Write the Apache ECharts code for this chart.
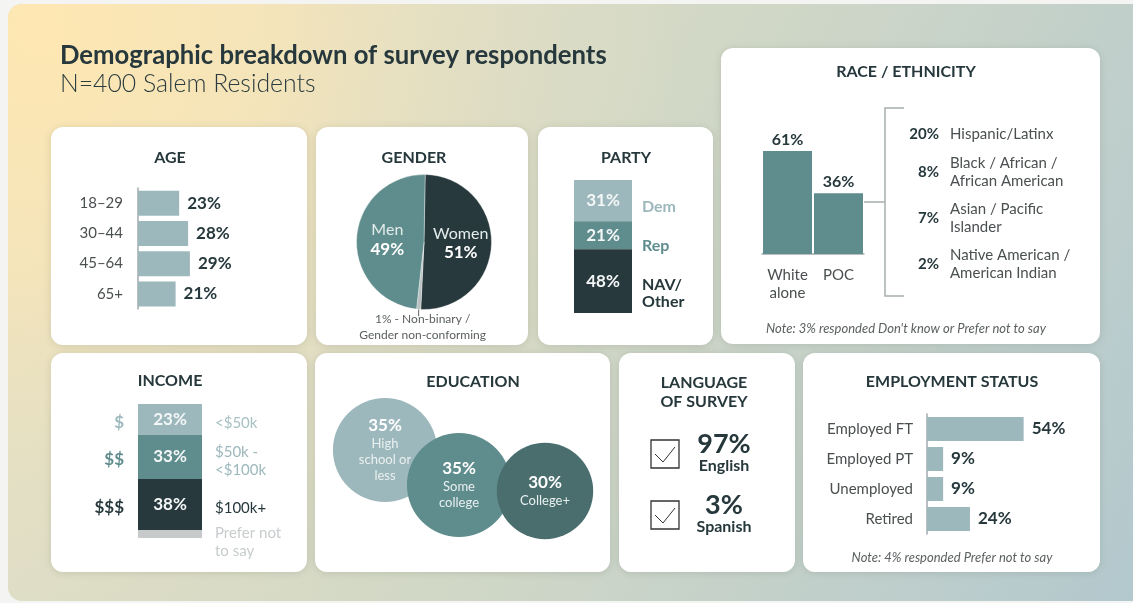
<!DOCTYPE html>
<html>
<head>
<meta charset="utf-8">
<title>Demographic breakdown of survey respondents</title>
<script src="https://cdn.jsdelivr.net/npm/echarts@6/dist/echarts.min.js"></script>
<style>
  html, body { margin: 0; padding: 0; background: #f4f4f2; }
  #chart { width: 1133px; height: 603px; }
</style>
</head>
<body>
<div id="chart"></div>
<script>
// ---- survey data ----
const ageCategories = ['18–29', '30–44', '45–64', '65+'];
const ageValues = [23, 28, 29, 21];

const genderNames = ['Women', 'Non-binary /\nGender non-conforming', 'Men'];
const genderValues = [51, 1, 49];

const partyNames = ['Dem', 'Rep', 'NAV/\nOther'];
const partyValues = [31, 21, 48];

const raceCategories = ['White\nalone', 'POC'];
const raceValues = [61, 36];
const pocNames = ['Hispanic/Latinx', 'Black / African /\nAfrican American', 'Asian / Pacific\nIslander', 'Native American /\nAmerican Indian'];
const pocValues = [20, 8, 7, 2];
const raceNote = "Note: 3% responded Don't know or Prefer not to say";

const incomeSymbols = ['$', '$$', '$$$', ''];
const incomeRanges = ['<$50k', '$50k -\n<$100k', '$100k+', 'Prefer not\nto say'];
const incomeValues = [23, 33, 38, 6];

const eduNames = ['High\nschool or\nless', 'Some\ncollege', 'College+'];
const eduValues = [35, 35, 30];

const langNames = ['English', 'Spanish'];
const langValues = [97, 3];

const empCategories = ['Employed FT', 'Employed PT', 'Unemployed', 'Retired'];
const empValues = [54, 9, 9, 24];
const empNote = 'Note: 4% responded Prefer not to say';

// ---- styling ----
const FONT = 'Lato, "Noto Sans", sans-serif';
const C = {
  ink: '#26383c',
  text: '#4a4f50',
  light: '#9db8bc',
  mid: '#5f8c8c',
  deep: '#27393c',
  grey: '#c6cacb',
  edu3: '#4a6e6e',
  axis: '#a3abac'
};
const pct = v => v + '%';
const clear = 'rgba(0,0,0,0)';

// ---- backdrop, card frames and static text ----
const cards = [
  [51, 127, 256, 218], [316, 127, 212, 218], [538, 127, 175, 218], [721, 48, 379, 296],
  [51, 353, 256, 219], [315, 353, 295, 219], [619, 353, 176, 219], [803, 353, 297, 219]
];
const backdrop = { x: 8, y: 4, width: 1145, height: 597, r: 14 };
const graphics = [{
  type: 'rect', z: -30, shape: backdrop,
  style: {
    fill: new echarts.graphic.LinearGradient(0, 0, 1, 1, [
      { offset: 0, color: '#e4e0c6' },
      { offset: 0.5, color: '#d2d8c6' },
      { offset: 1, color: '#b2c8ce' }
    ])
  }
}, {
  type: 'rect', z: -25, shape: backdrop,
  style: {
    fill: new echarts.graphic.RadialGradient(40, 30, 640, [
      { offset: 0, color: 'rgba(254,231,178,1)' },
      { offset: 0.35, color: 'rgba(250,230,182,0.8)' },
      { offset: 0.7, color: 'rgba(242,228,190,0.3)' },
      { offset: 1, color: 'rgba(240,228,195,0)' }
    ], true)
  }
}];
cards.forEach(c => graphics.push({
  type: 'rect', z: -10,
  shape: { x: c[0], y: c[1], width: c[2], height: c[3], r: 12 },
  style: { fill: '#ffffff', shadowBlur: 8, shadowColor: 'rgba(60,70,55,0.16)', shadowOffsetY: 1 }
}));

function text(x, y, str, o) {
  graphics.push({
    type: 'text', z: 10, x: x, y: y,
    style: Object.assign({
      text: str, fontFamily: FONT, fontSize: 16, fontWeight: 'bold', fill: C.ink,
      align: 'center', verticalAlign: 'middle'
    }, o || {})
  });
}

text(60, 56, 'Demographic breakdown of survey respondents', { align: 'left', fontSize: 25.7 });
text(60, 84, 'N=400 Salem Residents', { align: 'left', fontSize: 24.8, fontWeight: 300, fill: '#2b3b3f' });

text(170, 158, 'AGE');
text(414, 158, 'GENDER');
text(626, 158, 'PARTY');
text(906, 72, 'RACE / ETHNICITY');
text(170, 381, 'INCOME');
text(473, 382, 'EDUCATION');
text(704, 392, 'LANGUAGE\nOF SURVEY', { lineHeight: 19 });
text(952, 382, 'EMPLOYMENT STATUS');

// race: bracket linking POC to its breakdown
graphics.push({ type: 'polyline', z: 5, shape: { points: [[864, 202], [885, 202]] }, style: { stroke: '#a6adae', lineWidth: 1.5 } });
graphics.push({ type: 'polyline', z: 5, shape: { points: [[904, 108], [885, 108], [885, 296], [904, 296]] }, style: { stroke: '#a6adae', lineWidth: 1.5, fill: null } });
const pocRowY = [134, 172, 218, 264];
pocValues.forEach((v, i) => {
  text(939, pocRowY[i], pct(v), { align: 'right', fontSize: 15 });
  text(950, pocRowY[i], pocNames[i], { align: 'left', fontSize: 15, fontWeight: 'normal', fill: C.text, lineHeight: 18 });
});
text(906, 329, raceNote, { fontSize: 13, fontWeight: 'normal', fontStyle: 'italic', fill: '#5a5f60' });

// language: ticked boxes with shares
const langRowY = [440, 501];
langValues.forEach((v, i) => {
  const y = langRowY[i];
  graphics.push({ type: 'rect', z: 5, shape: { x: 651, y: y, width: 28, height: 28 }, style: { fill: '#fff', stroke: '#333', lineWidth: 1.3 } });
  graphics.push({ type: 'polyline', z: 6, shape: { points: [[655, y + 14], [663, y + 22], [675, y + 7]] }, style: { stroke: '#333', lineWidth: 1, fill: null } });
  text(724, y + 4, pct(v), { fontSize: 27 });
  text(724, y + 26, langNames[i], { fontSize: 16 });
});

text(952, 558, empNote, { fontSize: 13, fontWeight: 'normal', fontStyle: 'italic', fill: '#5a5f60' });

// ---- series ----
const valueLabel = { show: true, position: 'right', distance: 8, formatter: p => pct(p.value), fontFamily: FONT, fontSize: 17, fontWeight: 'bold', color: C.ink };
const series = [];

// age
series.push({
  type: 'bar', xAxisIndex: 0, yAxisIndex: 0, data: ageValues, barWidth: 25,
  itemStyle: { color: C.light }, label: valueLabel, silent: true
});

// party: stacked column, percentages inside, names beside
const partyColors = [C.light, C.mid, C.deep];
const partyNameColors = [C.light, C.mid, C.ink];
const partyNameNudge = [6, 11, 12];
partyValues.forEach((v, i) => {
  series.push({
    type: 'bar', xAxisIndex: 1, yAxisIndex: 1, stack: 'party', barWidth: 58, barGap: '-100%',
    data: [v], itemStyle: { color: partyColors[i] }, silent: true,
    label: { show: true, position: 'inside', formatter: p => pct(p.value), fontFamily: FONT, fontSize: 17, fontWeight: 'bold', color: '#f4f7f7' }
  });
  series.push({
    type: 'bar', xAxisIndex: 1, yAxisIndex: 1, stack: 'partyNames', barWidth: 58, barGap: '-100%',
    data: [v], itemStyle: { color: clear }, silent: true,
    label: { show: true, position: 'right', distance: 10, offset: [0, partyNameNudge[i]], formatter: partyNames[i], fontFamily: FONT, fontSize: 16, fontWeight: 'bold', lineHeight: 17, color: partyNameColors[i] }
  });
});

// race
series.push({
  type: 'bar', xAxisIndex: 2, yAxisIndex: 2, data: raceValues, barWidth: 49,
  itemStyle: { color: C.mid }, silent: true,
  label: { show: true, position: 'top', distance: 3, formatter: p => pct(p.value), fontFamily: FONT, fontSize: 16, fontWeight: 'bold', color: C.ink }
});

// income: stacked column with symbols left and ranges right
const incomeColors = [C.light, C.mid, C.deep, C.grey];
const incomeSymbolColors = [C.light, C.mid, C.ink, C.grey];
const incomeRangeColors = ['#a7c0c3', '#9db8bc', C.ink, '#c7cccd'];
incomeValues.forEach((v, i) => {
  const common = { type: 'bar', xAxisIndex: 3, yAxisIndex: 3, barWidth: 64, barGap: '-100%', data: [v], silent: true };
  series.push(Object.assign({}, common, {
    stack: 'income', itemStyle: { color: incomeColors[i] },
    label: { show: incomeSymbols[i] !== '', position: 'inside', formatter: p => pct(p.value), fontFamily: FONT, fontSize: 17, fontWeight: 'bold', color: '#f4f7f7' }
  }));
  series.push(Object.assign({}, common, {
    stack: 'incomeSym', itemStyle: { color: clear },
    label: { show: incomeSymbols[i] !== '', position: 'left', distance: 14, offset: [0, 3], formatter: incomeSymbols[i], fontFamily: FONT, fontSize: 17, fontWeight: 'bold', color: incomeSymbolColors[i] }
  }));
  series.push(Object.assign({}, common, {
    stack: 'incomeRange', itemStyle: { color: clear },
    label: { show: true, position: 'right', distance: 13, offset: [0, i === 3 ? 8 : 4], formatter: incomeRanges[i], fontFamily: FONT, fontSize: 15, lineHeight: 18, color: incomeRangeColors[i] }
  }));
});

// education: overlapping bubbles, area proportional to share; each on its own layer
const eduColors = [C.light, C.mid, C.edu3];
const eduNudge = [[0, -20], [-6, 15], [0, 21]];
const eduTextColors = ['#eaf0f0', '#e9f0f0', '#e9f0f0'];
eduValues.forEach((v, i) => {
  series.push({
    type: 'scatter', xAxisIndex: 4, yAxisIndex: 4, zlevel: i, z: 2, silent: true,
    data: [[i, 0, v]],
    symbolSize: p => 2 * 8.8 * Math.sqrt(p[2]),
    symbolOffset: eduNudge[i],
    itemStyle: { color: eduColors[i], opacity: 1 },
    label: {
      show: true, position: 'inside',
      formatter: () => '{p|' + pct(v) + '}\n' + eduNames[i].split('\n').map(s => '{n|' + s + '}').join('\n'),
      rich: {
        p: { fontFamily: FONT, fontSize: 17, fontWeight: 'bold', color: '#ffffff', lineHeight: 20 },
        n: { fontFamily: FONT, fontSize: 13, color: eduTextColors[i], lineHeight: 16 }
      }
    }
  });
});

// employment
series.push({
  type: 'bar', xAxisIndex: 5, yAxisIndex: 5, data: empValues, barWidth: 24,
  itemStyle: { color: C.light }, label: valueLabel, silent: true
});

// gender pie
const genderColors = [C.deep, '#b8bfc0', C.mid];
series.push({
  type: 'pie', center: [424, 242], radius: 67.5, startAngle: 89, silent: true,
  itemStyle: { borderColor: 'rgba(255,255,255,0.6)', borderWidth: 0.6 },
  labelLine: { show: false },
  data: genderValues.map((v, i) => {
    const item = { value: v, name: genderNames[i], itemStyle: { color: genderColors[i] } };
    if (i === 1) {
      item.label = {
        position: 'outside', formatter: p => pct(p.value) + ' - ' + p.name,
        fontFamily: FONT, fontSize: 12, lineHeight: 16, color: '#5a5f60', align: 'center'
      };
      item.labelLine = { show: true, length: 5, length2: 0, lineStyle: { color: '#666', width: 1 } };
    } else {
      item.label = {
        position: 'inside',
        formatter: p => '{n|' + p.name + '}\n{p|' + pct(p.value) + '}',
        rich: {
          n: { fontFamily: FONT, fontSize: 16, color: '#e4ecec', lineHeight: 19 },
          p: { fontFamily: FONT, fontSize: 17, fontWeight: 'bold', color: '#ffffff', lineHeight: 19 }
        }
      };
    }
    return item;
  }),
  labelLayout: function (p) {
    if (p.dataIndex !== 1 || !p.labelLinePoints) return {};
    const a = p.labelLinePoints[0];
    return {
      x: a[0] + 4, y: a[1] + 2, align: 'center', verticalAlign: 'top',
      labelLinePoints: [a, [a[0], a[1] + 7], [a[0], a[1] + 7]]
    };
  }
});

const hidden = { show: false };
const option = {
  animation: false,
  backgroundColor: '#f4f4f2',
  graphic: { elements: graphics },
  grid: [
    { left: 138, top: 188, width: 179, height: 121 },   // age
    { left: 574, top: 180, width: 58, height: 133 },    // party
    { left: 762, top: 85, width: 102, height: 169 },    // race
    { left: 138, top: 404, width: 64, height: 134 },    // income
    { left: 345, top: 440, width: 240, height: 60 },    // education
    { left: 927, top: 414, width: 179, height: 120 }    // employment
  ],
  xAxis: [
    { gridIndex: 0, type: 'value', min: 0, max: 100, show: false },
    { gridIndex: 1, type: 'category', data: ['Party'], show: false },
    {
      gridIndex: 2, type: 'category', data: raceCategories,
      axisLine: { lineStyle: { color: C.axis, width: 1.5 } }, axisTick: hidden,
      axisLabel: { interval: 0, fontFamily: FONT, fontSize: 15, color: C.text, margin: 12, lineHeight: 18 }
    },
    { gridIndex: 3, type: 'category', data: ['Income'], show: false },
    { gridIndex: 4, type: 'category', data: eduNames, show: false },
    { gridIndex: 5, type: 'value', min: 0, max: 100, show: false }
  ],
  yAxis: [
    {
      gridIndex: 0, type: 'category', data: ageCategories, inverse: true,
      axisLine: { lineStyle: { color: C.axis, width: 1.5 } }, axisTick: hidden,
      axisLabel: { interval: 0, fontFamily: FONT, fontSize: 15, color: C.text, margin: 15 }
    },
    { gridIndex: 1, type: 'value', min: 0, max: 100, inverse: true, show: false },
    { gridIndex: 2, type: 'value', min: 0, max: 100, show: false },
    { gridIndex: 3, type: 'value', min: 0, max: 100, inverse: true, show: false },
    { gridIndex: 4, type: 'value', min: -1, max: 1, show: false },
    {
      gridIndex: 5, type: 'category', data: empCategories, inverse: true,
      axisLine: { lineStyle: { color: C.axis, width: 1.5 } }, axisTick: hidden,
      axisLabel: { interval: 0, fontFamily: FONT, fontSize: 15, color: C.text, margin: 14 }
    }
  ],
  series: series
};

const chart = echarts.init(document.getElementById('chart'));
chart.setOption(option);
</script>
</body>
</html>
